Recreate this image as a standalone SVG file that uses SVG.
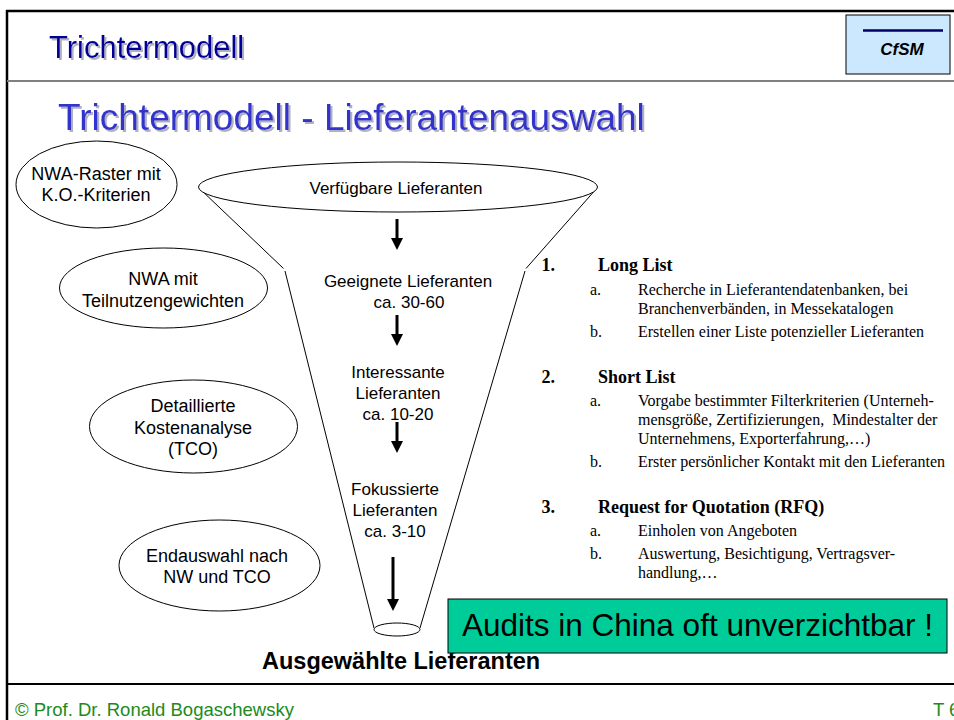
<svg xmlns="http://www.w3.org/2000/svg" width="954" height="720" viewBox="0 0 954 720">
<style>
.sans{font-family:"Liberation Sans",Arial,sans-serif}
.serif{font-family:"Liberation Serif","Times New Roman",serif}
.oval{fill:#fff;stroke:#000;stroke-width:1}
.lbl{font-family:"Liberation Sans",Arial,sans-serif;font-size:18px;fill:#000;text-anchor:middle}
.flbl{font-family:"Liberation Sans",Arial,sans-serif;font-size:17px;fill:#000;text-anchor:middle}
.fl{stroke:#000;stroke-width:1;fill:none}
.arr{stroke:#000;stroke-width:3;fill:none;marker-end:url(#ah)}
.num{font-family:"Liberation Serif","Times New Roman",serif;font-size:18px;font-weight:bold;fill:#000}
.body{font-family:"Liberation Serif","Times New Roman",serif;font-size:16px;fill:#000}
.foot{font-family:"Liberation Sans",Arial,sans-serif;font-size:18.5px;fill:#208a20}
.shadow{filter:url(#sh)}
</style>
<defs>
<marker id="ah" markerUnits="userSpaceOnUse" markerWidth="12" markerHeight="12" viewBox="0 0 12 12" refX="1" refY="6" orient="auto">
<path d="M0,0 L12,6 L0,12 z" fill="#000"/>
</marker>
<filter id="sh" x="-5%" y="-20%" width="110%" height="150%">
<feOffset in="SourceAlpha" dx="1.8" dy="1.8" result="off"/>
<feFlood flood-color="#b0b0c0" result="col"/>
<feComposite in="col" in2="off" operator="in" result="shadow"/>
<feMerge><feMergeNode in="shadow"/><feMergeNode in="SourceGraphic"/></feMerge>
</filter>
</defs>
<rect width="954" height="720" fill="#fff"/>

<g id="frame">
<line x1="6" y1="11" x2="954" y2="11" stroke="#000" stroke-width="2.5"/>
<line x1="7" y1="10" x2="7" y2="720" stroke="#000" stroke-width="2.5"/>
<line x1="7" y1="81" x2="954" y2="81" stroke="#808080" stroke-width="2"/>
<line x1="7" y1="684" x2="954" y2="684" stroke="#000" stroke-width="2"/>
</g>

<g id="header">
<text x="49" y="58" class="sans shadow" font-size="31" fill="#000099">Trichtermodell</text>
</g>

<g id="logo">
<rect x="846" y="15" width="104" height="59" fill="#cce8ff" stroke="#000" stroke-width="1"/>
<line x1="863" y1="30.5" x2="943" y2="30.5" stroke="#000066" stroke-width="2.5"/>
<text x="902" y="55" class="sans" font-size="17" font-weight="bold" font-style="italic" text-anchor="middle" fill="#000">CfSM</text>
</g>

<g id="title">
<text x="58" y="130" class="sans shadow" font-size="37" fill="#3333cc">Trichtermodell - Lieferantenauswahl</text>
</g>

<g id="nwa-raster">
<ellipse class="oval" cx="96.5" cy="184.5" rx="80.5" ry="43.5"/>
<text class="lbl" x="96" y="179.5">NWA-Raster mit</text>
<text class="lbl" x="96" y="200.5">K.O.-Kriterien</text>
</g>

<g id="nwa-teilnutzen">
<ellipse class="oval" cx="163.5" cy="288" rx="104" ry="40"/>
<text class="lbl" x="163" y="284.5">NWA mit</text>
<text class="lbl" x="163" y="306.5">Teilnutzengewichten</text>
</g>

<g id="kostenanalyse">
<ellipse class="oval" cx="193.5" cy="426.5" rx="104" ry="46.5"/>
<text class="lbl" x="193" y="412">Detaillierte</text>
<text class="lbl" x="193" y="433.5">Kostenanalyse</text>
<text class="lbl" x="193" y="455">(TCO)</text>
</g>

<g id="endauswahl">
<ellipse class="oval" cx="219.5" cy="565.5" rx="100.5" ry="45.5"/>
<text class="lbl" x="217" y="562">Endauswahl nach</text>
<text class="lbl" x="217" y="583">NW und TCO</text>
</g>

<g id="funnel">
<line class="fl" x1="199" y1="188" x2="283.5" y2="268.5"/>
<line class="fl" x1="285" y1="271" x2="374" y2="628"/>
<line class="fl" x1="597" y1="188" x2="526" y2="268.5"/>
<line class="fl" x1="525" y1="271" x2="420" y2="628"/>
<ellipse class="oval" cx="397" cy="629.5" rx="23" ry="6.5"/>
</g>

<g id="verfuegbare">
<ellipse class="oval" cx="398" cy="187" rx="199.5" ry="25"/>
<text class="flbl" x="396" y="194">Verfügbare Lieferanten</text>
</g>

<g id="geeignete">
<text class="flbl" x="408" y="287">Geeignete Lieferanten</text>
<text class="flbl" x="409" y="308">ca. 30-60</text>
</g>

<g id="interessante">
<text class="flbl" x="398" y="378">Interessante</text>
<text class="flbl" x="398" y="399">Lieferanten</text>
<text class="flbl" x="398" y="420">ca. 10-20</text>
</g>

<g id="fokussierte">
<text class="flbl" x="395" y="495">Fokussierte</text>
<text class="flbl" x="395" y="516">Lieferanten</text>
<text class="flbl" x="395" y="537">ca. 3-10</text>
</g>

<g id="ausgewaehlte">
<text x="262" y="669" class="sans" font-size="23.5" font-weight="bold" fill="#000">Ausgewählte Lieferanten</text>
</g>

<g id="connectors">
<line class="arr" x1="397" y1="219" x2="397" y2="239"/>
<line class="arr" x1="397" y1="315" x2="397" y2="335"/>
<line class="arr" x1="397" y1="422" x2="397" y2="442"/>
<line class="arr" x1="393" y1="557" x2="393" y2="600"/>
</g>

<g id="steps">
<text class="num" x="541.5" y="271">1.</text>
<text class="num" x="598" y="271">Long List</text>
<text class="body" x="590" y="295">a.</text>
<text class="body" x="638" y="295">Recherche in Lieferantendatenbanken, bei</text>
<text class="body" x="638" y="314">Branchenverbänden, in Messekatalogen</text>
<text class="body" x="590" y="336.5">b.</text>
<text class="body" x="638" y="336.5">Erstellen einer Liste potenzieller Lieferanten</text>

<text class="num" x="541.5" y="383">2.</text>
<text class="num" x="598" y="383">Short List</text>
<text class="body" x="590" y="406">a.</text>
<text class="body" x="638" y="406">Vorgabe bestimmter Filterkriterien (Unterneh-</text>
<text class="body" x="638" y="425" xml:space="preserve">mensgröße, Zertifizierungen,  Mindestalter der</text>
<text class="body" x="638" y="444">Unternehmens, Exporterfahrung,…)</text>
<text class="body" x="590" y="466.5">b.</text>
<text class="body" x="638" y="466.5">Erster persönlicher Kontakt mit den Lieferanten</text>

<text class="num" x="541.5" y="512.5">3.</text>
<text class="num" x="598" y="512.5">Request for Quotation (RFQ)</text>
<text class="body" x="590" y="536">a.</text>
<text class="body" x="638" y="536">Einholen von Angeboten</text>
<text class="body" x="590" y="558.5">b.</text>
<text class="body" x="638" y="558.5">Auswertung, Besichtigung, Vertragsver-</text>
<text class="body" x="638" y="577.5">handlung,…</text>
</g>

<g id="audits">
<rect x="448" y="599" width="499" height="54" fill="#00cc99" stroke="#000" stroke-width="1"/>
<text x="697.5" y="636" class="sans" font-size="31.5" text-anchor="middle" fill="#000">Audits in China oft unverzichtbar !</text>
</g>

<g id="footer">
<text x="15" y="716" class="foot">© Prof. Dr. Ronald Bogaschewsky</text>
<text x="933" y="716" class="foot">T 6</text>
</g>
</svg>
